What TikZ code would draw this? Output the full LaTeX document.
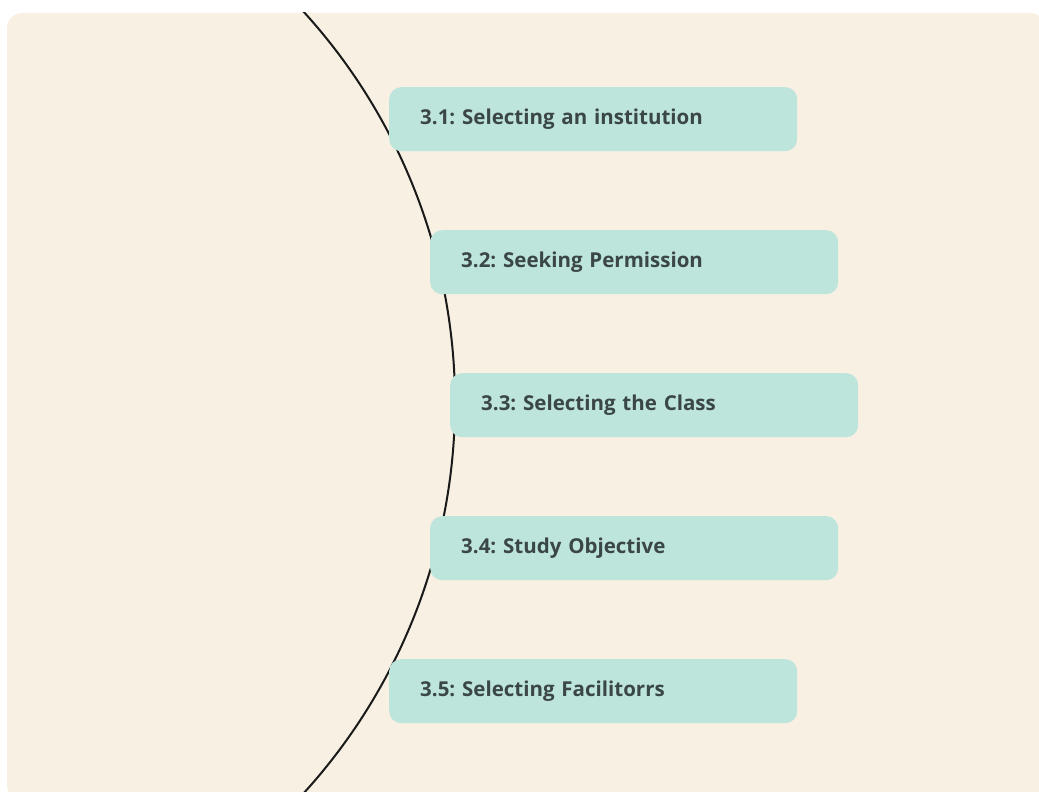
\documentclass[tikz,border=0pt]{standalone}
\usepackage{fontspec}
\setmainfont{Open Sans}
\frenchspacing
\definecolor{bgcream}{HTML}{F8F0E2}
\definecolor{boxteal}{HTML}{BDE5DC}
\definecolor{txtgray}{HTML}{3B4646}
\definecolor{arcblack}{HTML}{1A1A1A}
\begin{document}
\begin{tikzpicture}[x=1pt,y=-1pt,
  stepbox/.style={fill=boxteal, rounded corners=12pt, anchor=north west,
    minimum width=408pt, minimum height=64pt, inner xsep=31pt, inner ysep=0pt,
    text width=346pt, align=left, text=txtgray,
    font=\fontsize{20.5}{24}\selectfont\bfseries},
  arcline/.style={draw=arcblack, line width=2pt}]
\useasboundingbox (0,0) rectangle (1039,792);
\fill[white] (0,0) rectangle (1039,792);
\path[fill=bgcream, rounded corners=15pt] (7,13) rectangle (1045,800);
\begin{scope}
  \clip (7,13) rectangle (1039,792);
  \coordinate (ctr) at (-125,402.5);
  \draw[arcline] (ctr) ++(-50:580) arc[start angle=-50, end angle=50, radius=580];
\end{scope}
\node[stepbox] (s1) at (389,87) {3.1: Selecting an institution};
\node[stepbox] (s2) at (430,230) {3.2: Seeking Permission};
\node[stepbox] (s3) at (450,373) {3.3: Selecting the Class};
\node[stepbox] (s4) at (430,516) {3.4: Study Objective};
\node[stepbox] (s5) at (389,659) {3.5: Selecting Facilitorrs};
\end{tikzpicture}
\end{document}
